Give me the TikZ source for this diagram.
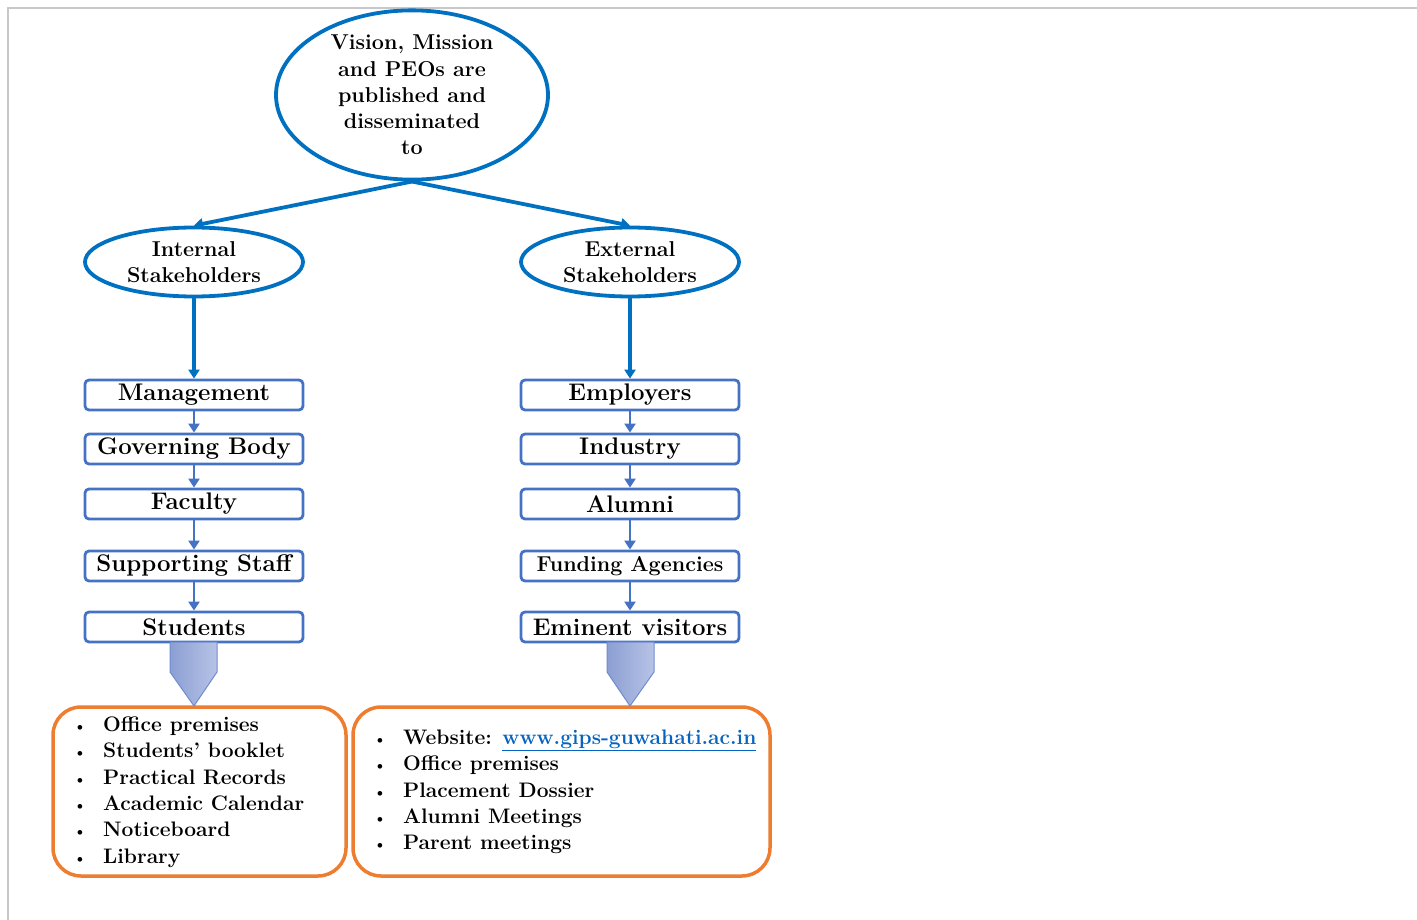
\documentclass[tikz,border=0pt]{standalone}
\usetikzlibrary{shapes.geometric,arrows.meta}
\usepackage{graphicx}
\definecolor{topblue}{HTML}{0070C0}
\definecolor{boxblue}{HTML}{4472C4}
\definecolor{orng}{HTML}{ED7D31}
\definecolor{linkblue}{HTML}{0563C1}
\definecolor{bordergray}{HTML}{C8C8C8}
\definecolor{shadeL}{HTML}{8C9FD3}
\definecolor{shadeR}{HTML}{B7C3E6}
\definecolor{shadeD}{HTML}{6F8BD0}
\newcommand{\blt}{\makebox[31pt][l]{\hspace{1pt}\scalebox{0.75}{\textbullet}}}
\begin{document}
\begin{tikzpicture}[x=1pt,y=-1pt,
  ell/.style={ellipse,draw=topblue,line width=3.8pt,inner sep=0pt,align=center,
    font=\fontsize{21.5}{26.2}\selectfont\bfseries},
  sbox/.style={rectangle,draw=boxblue,line width=2.8pt,rounded corners=4pt,
    minimum width=218pt,minimum height=30pt,inner sep=0pt,
    font=\fontsize{24}{26}\selectfont\bfseries},
  obox/.style={rectangle,draw=orng,line width=3.5pt,rounded corners=28pt,
    minimum height=169pt,inner sep=0pt},
  list/.style={anchor=west,align=left,inner sep=0pt,
    font=\fontsize{21}{26.3}\selectfont\bfseries},
  toparr/.style={draw=topblue,line width=3.8pt,-{Triangle[length=9pt,width=11pt]}},
  boxarr/.style={draw=boxblue,line width=2.8pt,-{Triangle[length=9pt,width=11pt]}},
  blockarr/.style={left color=shadeL,right color=shadeR,draw=shadeD,line width=1pt}
]
\useasboundingbox (0,0) rectangle (1417,920);
\draw[bordergray,line width=1.5pt] (1417,8) -- (8,8) -- (8,920);

% ellipses
\node[ell,minimum width=272pt,minimum height=164pt] (top) at (412,95)
  {Vision, Mission\\and PEOs are\\published and\\disseminated\\to};
\node[ell,minimum width=218pt,minimum height=69pt] (int) at (194,262)
  {Internal\\Stakeholders};
\node[ell,minimum width=218pt,minimum height=69pt] (ext) at (630,262)
  {External\\Stakeholders};

\draw[toparr] (top.south) -- (int.north);
\draw[toparr] (top.south) -- (ext.north);

% left column
\node[sbox] (m) at (194,395) {Management};
\node[sbox] (g) at (194,449) {Governing Body};
\node[sbox] (f) at (194,504) {Faculty};
\node[sbox] (s) at (194,566) {Supporting Staff};
\node[sbox] (st) at (194,627) {Students};

% right column
\node[sbox] (e) at (630,395) {Employers};
\node[sbox] (i) at (630,449) {Industry};
\node[sbox] (a) at (630,504) {Alumni};
\node[sbox,font=\fontsize{21.5}{26}\selectfont\bfseries] (fa) at (630,566) {Funding Agencies};
\node[sbox] (ev) at (630,627) {Eminent visitors};

\draw[toparr] (int.south) -- (m.north);
\draw[toparr] (ext.south) -- (e.north);
\foreach \u/\v in {m/g,g/f,f/s,s/st,e/i,i/a,a/fa,fa/ev}
  \draw[boxarr] (\u.south) -- (\v.north);

% orange boxes
\node[obox,minimum width=293pt] (lb) at (199.5,791.5) {};
\node[obox,minimum width=417pt] (rb) at (561.5,791.5) {};

% block arrows
\path[blockarr] (170,642) -- (217,642) -- (217,672) -- (194,706) -- (170,672) -- cycle;
\path[blockarr] (607,642) -- (654,642) -- (654,672) -- (630,706) -- (607,672) -- cycle;

% lists
\node[list] (ll) at (72,792) {%
  \blt Office premises\\
  \blt Students' booklet\\
  \blt Practical Records\\
  \blt Academic Calendar\\
  \blt Noticeboard\\
  \blt Library};
\node[list] (rl) at (372,792) {%
  \blt Website: \textcolor{linkblue}{\underline{www.gips-guwahati.ac.in}}\\
  \blt Office premises\\
  \blt Placement Dossier\\
  \blt Alumni Meetings\\
  \blt Parent meetings};
\end{tikzpicture}
\end{document}
